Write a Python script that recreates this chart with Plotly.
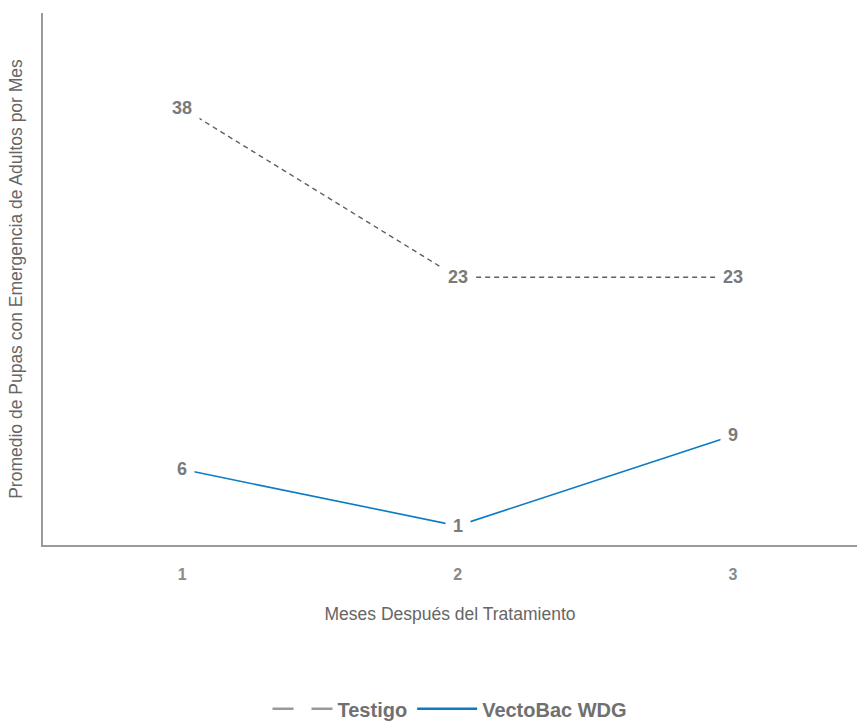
import plotly.graph_objects as go

# Months after treatment and monthly mean of pupae with adult emergence
months = [1, 2, 3]
testigo = [38, 23, 23]
vectobac = [6, 1, 9]
series_names = ["Testigo", "VectoBac WDG"]

x_title = "Meses Después del Tratamiento"
y_title = "Promedio de Pupas con Emergencia de Adultos por Mes"

GRAY_LINE = "#5f5f5f"
GRAY_KEY = "#9a9a9a"
BLUE = "#0a7bc4"
LABEL_GRAY = "#7a7a7a"
AXIS_GRAY = "#9a9a9a"
FONT = "Liberation Sans, Arial, sans-serif"

fig = go.Figure()

# Data lines (legend keys are drawn by the key-only entries below)
fig.add_trace(go.Scatter(
    x=months, y=testigo, name=series_names[0], mode="lines",
    legendgroup="testigo", showlegend=False,
    line=dict(color=GRAY_LINE, width=1.4, dash="5px,4px"),
))
fig.add_trace(go.Scatter(
    x=months, y=vectobac, name=series_names[1], mode="lines",
    legendgroup="vectobac", showlegend=False,
    line=dict(color=BLUE, width=1.6),
))

# Legend keys with heavier strokes, grouped with their series
fig.add_trace(go.Scatter(
    x=[None], y=[None], name=series_names[0], mode="lines",
    legendgroup="testigo", hoverinfo="skip",
    line=dict(color=GRAY_KEY, width=2.5, dash="21px,18px"),
))
fig.add_trace(go.Scatter(
    x=[None], y=[None], name=series_names[1], mode="lines",
    legendgroup="vectobac", hoverinfo="skip",
    line=dict(color=BLUE, width=2.5),
))

# Value labels sit on the points; the white box opens a gap in the line
annotations = []
for series in (testigo, vectobac):
    for m, v in zip(months, series):
        annotations.append(dict(
            x=m, y=v, xref="x", yref="y", text=f"<b>{v}</b>",
            showarrow=False, bgcolor="white", borderpad=7,
            font=dict(family=FONT, size=18, color=LABEL_GRAY),
            xanchor="center", yanchor="middle",
        ))

fig.update_layout(
    width=857, height=723,
    margin=dict(l=43, r=0, t=13, b=178, autoexpand=False),
    paper_bgcolor="white", plot_bgcolor="white",
    font=dict(family=FONT, color="#666666"),
    annotations=annotations,
    showlegend=True,
    legend=dict(
        orientation="h", x=0.5, xanchor="center", y=-0.308, yanchor="middle",
        font=dict(family=FONT, size=20, color="#707070", weight="bold"),
        itemwidth=60, traceorder="normal",
    ),
    xaxis=dict(
        range=[0.495, 3.45], tickmode="array", tickvals=months,
        ticktext=[f"<b>{m}</b>" for m in months],
        tickfont=dict(family=FONT, size=16, color="#8a8a8a"),
        ticks="", ticklabelstandoff=14,
        showgrid=False, zeroline=False, automargin=False,
        showline=True, linecolor=AXIS_GRAY, linewidth=1.5,
        title=dict(text=x_title, standoff=26,
                   font=dict(family=FONT, size=17.5, color="#666666")),
        fixedrange=True,
    ),
    yaxis=dict(
        range=[-0.7, 46.4], showticklabels=False, ticks="",
        showgrid=False, zeroline=False, automargin=False,
        showline=True, linecolor=AXIS_GRAY, linewidth=1.5,
        title=dict(text=y_title, standoff=14,
                   font=dict(family=FONT, size=17.5, color="#666666")),
        fixedrange=True,
    ),
)

fig.write_html("out.html")
